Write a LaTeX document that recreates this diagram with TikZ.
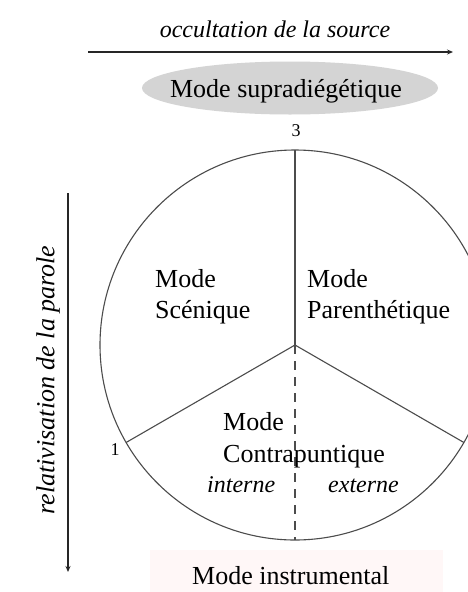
\documentclass[tikz,border=0pt]{standalone}
\usepackage{fontspec}
\setmainfont{Liberation Serif}
\usetikzlibrary{arrows.meta,shapes.geometric,calc}
\begin{document}
\begin{tikzpicture}[x=1pt,y=-1pt,
  lbl/.style={inner sep=0pt,anchor=base west,font=\fontsize{26}{31}\selectfont},
  itl/.style={inner sep=0pt,font=\fontsize{24}{29}\selectfont\itshape},
  num/.style={inner sep=0pt,font=\fontsize{18}{20}\selectfont},
  ln/.style={line width=1.1pt,draw=black!70},
  axis/.style={line width=1.3pt,draw=black!85,-{Stealth[length=6pt,width=5pt]}}]
\useasboundingbox (0,0) rectangle (468,592);
\clip (0,0) rectangle (468,592);
\fill[white] (0,0) rectangle (468,592);
% faint background of bottom label
\fill[red!3] (150,550) rectangle (443,592);
% top axis
\node[itl,anchor=base] (occ) at (275,37) {occultation de la source};
\coordinate (ta) at (88,52);
\coordinate (tb) at (453,52);
\draw[axis] (ta) -- (tb);
% supradiegetic ellipse
\node[ellipse,fill=black!17,minimum width=296pt,minimum height=53pt,inner sep=0pt] (sup) at (290,88) {};
\node[inner sep=0pt,anchor=base,font=\fontsize{26}{31}\selectfont] (suptxt) at (286,97) {Mode supradiégétique};
% left axis
\node[itl,rotate=90,font=\fontsize{26}{31}\selectfont\itshape] (rel) at (48,380) {relativisation de la parole};
\coordinate (la) at (68,193);
\coordinate (lb) at (68,572);
\draw[axis] (la) -- (lb);
% circle
\coordinate (c) at (295,345);
\draw[ln] (c) circle[radius=195];
\coordinate (p3) at ($(c)+(0,-195)$);
\coordinate (p1) at ($(c)+(-168.9,97.5)$);
\coordinate (p2) at ($(c)+(168.9,97.5)$);
\coordinate (pb) at ($(c)+(0,195)$);
\draw[ln] (c) -- (p3);
\draw[ln] (c) -- (p1);
\draw[ln] (c) -- (p2);
\draw[ln,dash pattern=on 9pt off 7pt] (c) -- (pb);
% numbers
\node[num] (n3) at (296,131) {3};
\node[num] (n1) at (115,450) {1};
% sector labels
\node[lbl] (sc1) at (155,287) {Mode};
\node[lbl] (sc2) at (155,318) {Scénique};
\node[lbl] (pa1) at (307,287) {Mode};
\node[lbl] (pa2) at (307,318) {Parenthétique};
\node[lbl] (co1) at (223,430) {Mode};
\node[lbl] (co2) at (223,462) {Contrapuntique};
\node[itl,anchor=base west] (int) at (207,492) {interne};
\node[itl,anchor=base west] (ext) at (328,492) {externe};
% bottom
\node[lbl] (ins) at (192,584) {Mode instrumental};
\end{tikzpicture}
\end{document}
